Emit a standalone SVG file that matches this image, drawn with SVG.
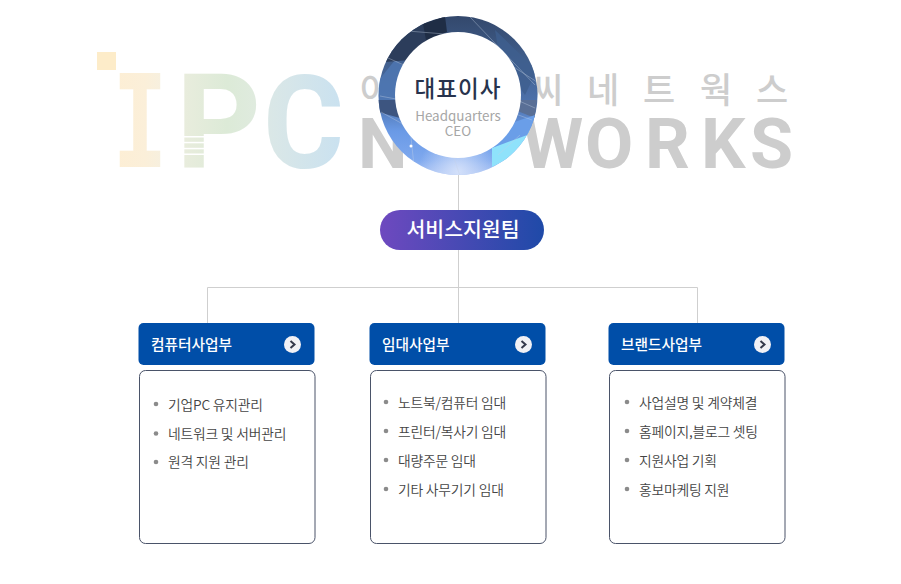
<svg xmlns="http://www.w3.org/2000/svg" width="901" height="584" viewBox="0 0 901 584">
<style>
.cjk{font-family:"Noto Sans CJK KR","Noto Sans",sans-serif}
.wm{font-family:"Noto Sans CJK KR",sans-serif;font-size:35px;fill:#cdcdcd;font-weight:500}
.en{font-family:Roboto,"Liberation Sans",sans-serif;font-size:70px;font-weight:700;fill:#cdcdcd}
.conn{stroke:#cfcfcf;stroke-width:1;fill:none}
.hd{fill:#004ea8}
.hdt{font-family:"Noto Sans CJK KR",sans-serif;font-size:14.7px;font-weight:500;fill:#fff}
.box{fill:#fff;stroke:#4a5369;stroke-width:1}
.li{font-family:"Noto Sans CJK KR",sans-serif;font-size:13.8px;font-weight:350;fill:#444;letter-spacing:-.2px}
.dot{fill:#8b8b8b}
.go{fill:#f1f1f5}
.chev{fill:none;stroke:#34384a;stroke-width:2}
.fl{stroke:#c6d2e6;stroke-opacity:.55;stroke-width:.7;fill:none}
</style>
<defs>
<linearGradient id="gi" x1="0" x2="1" y1="0" y2="0"><stop offset="0" stop-color="#fdeed4"/><stop offset=".6" stop-color="#fbefd9"/><stop offset="1" stop-color="#f5f0e1"/></linearGradient>
<linearGradient id="gp" x1="0" x2="1" y1="0" y2="0"><stop offset="0" stop-color="#ebedde"/><stop offset=".6" stop-color="#dcead7"/><stop offset="1" stop-color="#e0ebe0"/></linearGradient>
<linearGradient id="gc" x1="0" x2="1" y1="0" y2="0"><stop offset="0" stop-color="#dce8e6"/><stop offset="1" stop-color="#c9e1f0"/></linearGradient>
<linearGradient id="gr" x1="0" x2="0" y1="0" y2="1"><stop offset="0" stop-color="#33486c"/><stop offset=".3" stop-color="#42608f"/><stop offset=".55" stop-color="#4d72ad"/><stop offset=".72" stop-color="#6a9ae6"/><stop offset=".9" stop-color="#7ea8ee"/><stop offset="1" stop-color="#a9c2f3"/></linearGradient>
<radialGradient id="gl" gradientUnits="userSpaceOnUse" cx="458" cy="172" r="40"><stop offset="0" stop-color="#d3e0fa"/><stop offset="1" stop-color="#d3e0fa" stop-opacity="0"/></radialGradient>
<linearGradient id="gb" x1="0" x2="1" y1="0" y2="0"><stop offset="0" stop-color="#6e49bf"/><stop offset="1" stop-color="#1f4aa8"/></linearGradient>
<clipPath id="cr"><circle cx="458" cy="95.500" r="79.500"/></clipPath>
</defs>
<g id="watermark">
<rect x="97" y="52" width="19" height="18" fill="#fdecc9"/>
<text x="112" y="167" font-family="DejaVu Sans Mono" font-weight="700" font-size="129" fill="url(#gi)" textLength="56" lengthAdjust="spacingAndGlyphs">I</text>
<text x="176" y="167" font-family="Roboto" font-weight="700" font-size="132" fill="url(#gp)">P</text>
<g fill="#fff"><rect x="184" y="136" width="20" height="1.500"/><rect x="184" y="141.800" width="20" height="1.500"/><rect x="184" y="147.800" width="20" height="1.500"/><rect x="184" y="153.500" width="20" height="1.500"/></g>
<text x="263" y="167.500" font-family="Roboto" font-weight="700" font-size="130" textLength="81" lengthAdjust="spacingAndGlyphs" fill="url(#gc)">C</text>
<text class="wm" x="360" y="103">아</text><text class="wm" x="531" y="103">씨</text><text class="wm" x="587" y="103">네</text><text class="wm" x="643" y="103">트</text><text class="wm" x="700" y="103">웍</text><text class="wm" x="756" y="103">스</text>
<text class="en" x="358" y="168">N</text><text class="en" x="522" y="168">W</text><text class="en" x="585" y="168">O</text><text class="en" x="645" y="168">R</text><text class="en" x="701" y="168">K</text><text class="en" x="750" y="168">S</text>
</g>
<g id="connectors">
<path class="conn" d="M458.500 175V323M207.500 323V287.500H697.500V323"/>
</g>
<g id="ceo">
<g clip-path="url(#cr)">
<rect x="378" y="16" width="160" height="160" fill="url(#gr)"/>
<polygon points="379,80 395,60 420,78 400,110 379,112" fill="#4f78b4" opacity=".8"/>
<polygon points="388,40 425,22 446,32 410,60 385,62" fill="#2c3d5b"/>
<polygon points="423,24 445,16 447,32 426,40" fill="#1f2d45"/>
<polygon points="495,30 537,70 525,95 500,60" fill="#3f5f8e" opacity=".8"/>
<polygon points="520,100 537,100 535,118 515,110" fill="#596f96"/>
<polygon points="378,100 400,100 400,118 378,112" fill="#3d5580"/>
<rect x="400" y="140" width="110" height="36" fill="url(#gl)"/>
<polygon points="492,148 530,130 525,150 492,167" fill="#8fe2fb"/>
<polygon points="497,128 535,115 530,134 492,148" fill="#6a9ee8"/>
<path class="fl" d="M470 17L535 85M503 60L537 82M517 100L535 108M513 113L532 120M388 58L420 72M380 96L396 99M381 112L410 128L415 175M395 30L445 34M498 155L520 135M454 158L460 176"/>
<circle cx="411" cy="146" r="1.500" fill="#fff"/>
</g>
<circle cx="458" cy="95" r="63" fill="#fff"/>
<text class="cjk" x="458" y="97" text-anchor="middle" font-size="22.500" font-weight="500" letter-spacing="1" fill="#27334d">대표이사</text>
<text class="cjk" x="458" y="121" text-anchor="middle" font-size="13.400" fill="#a6a6a6">Headquarters</text>
<text class="cjk" x="458" y="136" text-anchor="middle" font-size="13.400" fill="#a6a6a6">CEO</text>
</g>
<g id="team">
<rect x="380" y="210" width="164" height="40" rx="20" fill="url(#gb)"/>
<text class="cjk" x="463" y="237" text-anchor="middle" font-size="20.500" font-weight="500" fill="#fff">서비스지원팀</text>
</g>
<g id="computer">
<rect class="hd" x="138.500" y="323" width="176" height="42" rx="5"/>
<text class="hdt" x="151" y="350">컴퓨터사업부</text>
<circle class="go" cx="292.500" cy="344.500" r="8.500"/><path class="chev" d="M290.500 341L294.500 344.500L290.500 348"/>
<rect class="box" x="139.500" y="370.500" width="175.500" height="173" rx="6"/>
<circle class="dot" cx="156" cy="404" r="2.300"/><text class="li" x="168" y="409.500">기업PC 유지관리</text>
<circle class="dot" cx="156" cy="433.500" r="2.300"/><text class="li" x="168" y="438.500">네트워크 및 서버관리</text>
<circle class="dot" cx="156" cy="462" r="2.300"/><text class="li" x="168" y="467">원격 지원 관리</text>
</g>
<g id="rental">
<rect class="hd" x="369.500" y="323" width="176" height="42" rx="5"/>
<text class="hdt" x="382" y="350">임대사업부</text>
<circle class="go" cx="523.500" cy="344.500" r="8.500"/><path class="chev" d="M521.500 341L525.500 344.500L521.500 348"/>
<rect class="box" x="370.500" y="370.500" width="175.500" height="173" rx="6"/>
<circle class="dot" cx="386" cy="402" r="2.300"/><text class="li" x="398" y="407.500">노트북/컴퓨터 임대</text>
<circle class="dot" cx="386" cy="431" r="2.300"/><text class="li" x="398" y="436.500">프린터/복사기 임대</text>
<circle class="dot" cx="386" cy="460" r="2.300"/><text class="li" x="398" y="465.500">대량주문 임대</text>
<circle class="dot" cx="386" cy="489" r="2.300"/><text class="li" x="398" y="494.500">기타 사무기기 임대</text>
</g>
<g id="brand">
<rect class="hd" x="608.500" y="323" width="176" height="42" rx="5"/>
<text class="hdt" x="621" y="350">브랜드사업부</text>
<circle class="go" cx="762.500" cy="344.500" r="8.500"/><path class="chev" d="M760.500 341L764.500 344.500L760.500 348"/>
<rect class="box" x="609.500" y="370.500" width="175.500" height="173" rx="6"/>
<circle class="dot" cx="627" cy="402" r="2.300"/><text class="li" x="639" y="407.500">사업설명 및 계약체결</text>
<circle class="dot" cx="627" cy="431" r="2.300"/><text class="li" x="639" y="436.500">홈페이지,블로그 셋팅</text>
<circle class="dot" cx="627" cy="460" r="2.300"/><text class="li" x="639" y="465.500">지원사업 기획</text>
<circle class="dot" cx="627" cy="489" r="2.300"/><text class="li" x="639" y="494.500">홍보마케팅 지원</text>
</g>
</svg>
